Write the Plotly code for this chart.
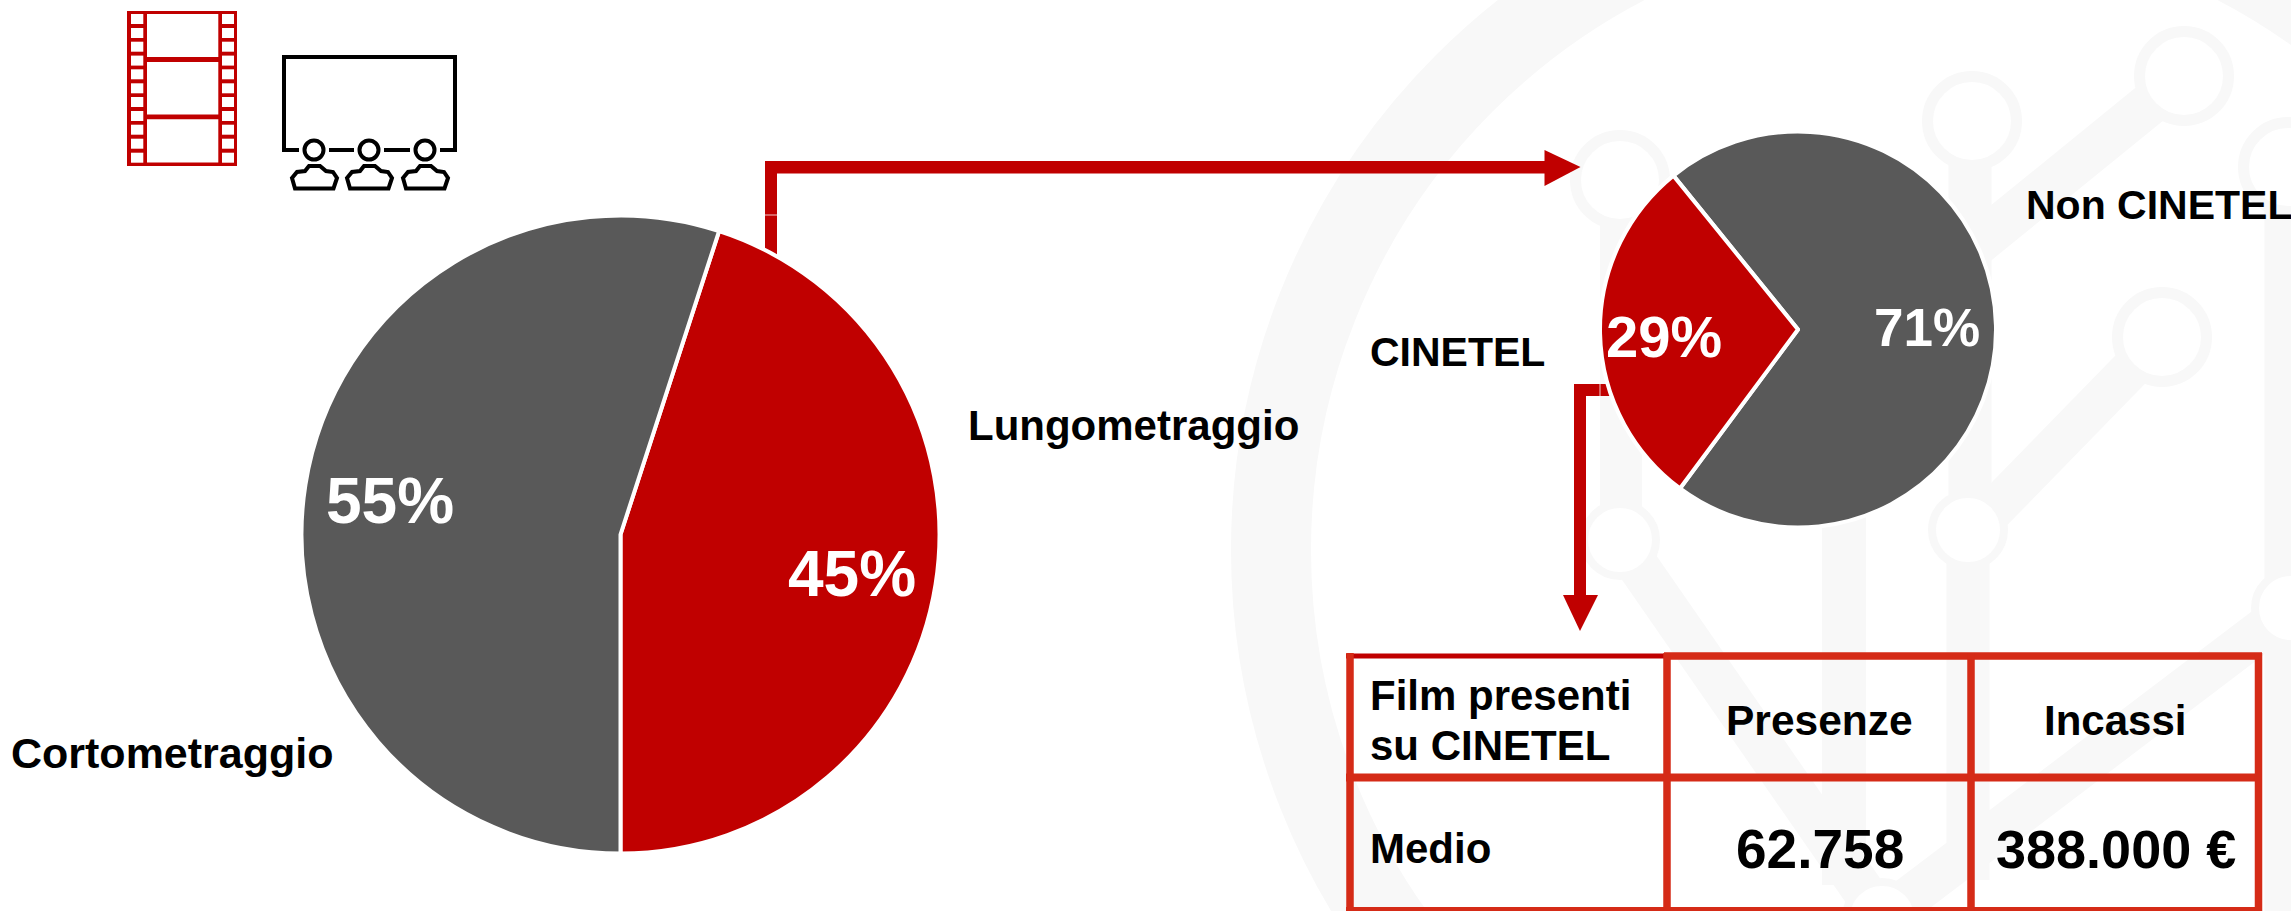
import plotly.graph_objects as go

W, H = 2291, 911
FONT = "Liberation Sans"
RED = "#C00000"
GREY = "#595959"
TABLE_RED = "#D52B17"
WM = "#F8F8F8"

# ---- data ----
format_labels = ["Lungometraggio", "Cortometraggio"]
format_values = [45, 55]
cinetel_labels = ["Non CINETEL", "CINETEL"]
cinetel_values = [71, 29]
table_header = ["Presenze", "Incassi"]
table_first_header = ["Film presenti", "su CINETEL"]
table_row_label = "Medio"
table_row_values = ["62.758", "388.000 €"]


def fx(x):
    return x / W


def fy(y):
    return 1 - y / H


def path(points, close=False):
    s = "M " + " L ".join(f"{fx(x):.6f},{fy(y):.6f}" for x, y in points)
    return s + (" Z" if close else "")


shapes = []


def poly(points, fill=None, line=None, width=0, layer="below", close=True):
    shapes.append(dict(type="path", xref="paper", yref="paper", layer=layer,
                       path=path(points, close),
                       fillcolor=fill if fill else "rgba(0,0,0,0)",
                       line=dict(color=line if line else "rgba(0,0,0,0)", width=width)))


def seg(x0, y0, x1, y1, color, width, layer="below"):
    shapes.append(dict(type="line", xref="paper", yref="paper", layer=layer,
                       x0=fx(x0), y0=fy(y0), x1=fx(x1), y1=fy(y1),
                       line=dict(color=color, width=width)))


def circle(cx, cy, r, line, width, fill=None, layer="below"):
    shapes.append(dict(type="circle", xref="paper", yref="paper", layer=layer,
                       x0=fx(cx - r), x1=fx(cx + r), y0=fy(cy - r), y1=fy(cy + r),
                       fillcolor=fill if fill else "rgba(0,0,0,0)",
                       line=dict(color=line, width=width)))


def rect(x0, y0, x1, y1, fill, layer="below"):
    shapes.append(dict(type="rect", xref="paper", yref="paper", layer=layer,
                       x0=fx(x0), x1=fx(x1), y0=fy(y0), y1=fy(y1),
                       fillcolor=fill, line=dict(width=0)))


# ---- watermark ----
circle(1931, 550, 660, WM, 80)
seg(1621, 180, 1621, 540, WM, 42)          # stem A-F
seg(1970, 121, 1970, 530, WM, 43)          # stem B-G
seg(1968, 530, 1968, 880, WM, 43)          # stem G down
seg(1844, 400, 1844, 885, WM, 44)          # stem behind pie
seg(2184, 76, 1970, 250, WM, 43)           # C to stem
seg(2162, 337, 1968, 536, WM, 41)          # E to stem
seg(1620, 540, 1882, 918, WM, 42)          # F to I
seg(2291, 608, 1882, 918, WM, 42)          # H to I
seg(2286, 167, 2286, 911, WM, 43)          # right stem
for cx, cy, r, w in [(1620, 180, 44.5, 11), (1972, 121, 44.5, 11), (2184, 76, 44.5, 11),
                     (2288, 167, 44.5, 11), (2162, 337, 44.5, 11), (1620, 540, 36, 8),
                     (1968, 530, 36, 8), (2291, 608, 36, 8), (1882, 918, 36, 8)]:
    circle(cx, cy, r, WM, w, fill="#FFFFFF")

# ---- arrows ----
rect(765, 161, 777, 270, RED)
rect(765, 161, 1546, 173.5, RED)
poly([(1544.5, 150), (1580.5, 167), (1544.5, 186)], fill=RED)
seg(765, 215, 777, 215, "#F0C8C8", 1)
rect(1574, 384, 1586, 597, RED)
rect(1574, 384, 1640, 396, RED)
poly([(1563, 595), (1598, 595), (1580, 631)], fill=RED)
seg(1600, 384, 1600, 396, "#F0C8C8", 1)

# ---- table ----
table_x = [1350, 1667, 1971, 2258.5]
seg(1346, 656, 1664, 656, RED, 5, "above")
seg(1664, 656, 2262, 656, TABLE_RED, 7.5, "above")
seg(1346, 777.5, 2262, 777.5, TABLE_RED, 8, "above")
seg(1346, 910, 2262, 910, TABLE_RED, 6, "above")
for x in table_x:
    seg(x, 653, x, 911, TABLE_RED, 7.5, "above")

# ---- film icon ----
rect(127, 11, 237, 166, RED)
hole_tops = [14, 28, 41.7, 55.6, 69.3, 83.3, 97, 111, 124.7, 138.7, 152.7]
for t in hole_tops:
    rect(131, t, 143.3, t + 10, "#FFFFFF")
    rect(222, t, 234, t + 10, "#FFFFFF")
for t, b in [(14, 57), (62, 114.5), (119.3, 162.5)]:
    rect(147, t, 218.3, b, "#FFFFFF")

# ---- cinema icon ----
BLACK = "#000000"
poly([(299, 150), (284, 150), (284, 57), (455, 57), (455, 150), (440, 150)],
     line=BLACK, width=4, close=False)
seg(329, 150, 354, 150, BLACK, 4)
seg(384, 150, 410, 150, BLACK, 4)
seat = [(-22, 178), (-17, 172), (-9, 171), (-5, 166), (6, 166),
        (12, 171), (19, 172), (23, 178), (19.5, 188.5), (-19, 188.5)]
for cx in [314, 369, 425]:
    circle(cx, 150, 9.5, BLACK, 4)
    poly([(cx + dx, y) for dx, y in seat], line=BLACK, width=4)


def dom(cx, cy, r):
    return dict(x=[(cx - r) / W, (cx + r) / W], y=[1 - (cy + r) / H, 1 - (cy - r) / H])


fig = go.Figure()
fig.add_trace(go.Pie(labels=format_labels, values=format_values, sort=False, direction="clockwise",
                     rotation=18, domain=dom(620.5, 534.5, 319), textinfo="none",
                     marker=dict(colors=[RED, GREY], line=dict(color="#FFFFFF", width=4)),
                     showlegend=False, hoverinfo="skip"))
fig.add_trace(go.Pie(labels=cinetel_labels, values=cinetel_values, sort=False, direction="clockwise",
                     rotation=-39, domain=dom(1798, 329.5, 198), textinfo="none",
                     marker=dict(colors=[GREY, RED], line=dict(color="#FFFFFF", width=4)),
                     showlegend=False, hoverinfo="skip"))


def note(text, x, y, size, color="#000000", anchor="center"):
    return dict(text=f"<b>{text}</b>", x=fx(x), y=fy(y), xref="paper", yref="paper",
                xanchor=anchor, yanchor="middle", showarrow=False,
                font=dict(family=FONT, size=size, color=color))


annotations = [
    note(f"{format_values[1]}%", 389.5, 501, 64, "#FFFFFF"),
    note(f"{format_values[0]}%", 851.5, 574, 64, "#FFFFFF"),
    note(f"{cinetel_values[1]}%", 1664, 336, 58, "#FFFFFF"),
    note(f"{cinetel_values[0]}%", 1927, 327, 53, "#FFFFFF"),
    note(format_labels[0], 966, 425, 42, anchor="left"),
    note(format_labels[1], 9, 753, 43, anchor="left"),
    note(cinetel_labels[0], 2024, 205, 41, anchor="left"),
    note(cinetel_labels[1], 1368, 352, 41, anchor="left"),
    note(table_first_header[0], 1368, 695, 42, anchor="left"),
    note(table_first_header[1], 1368, 745, 42, anchor="left"),
    note(table_header[0], 1819.5, 720, 42.5),
    note(table_header[1], 2115, 720, 42),
    note(table_row_label, 1368, 848, 42, anchor="left"),
    note(table_row_values[0], 1819.5, 849, 55),
    note(table_row_values[1], 2116, 849, 54),
]

fig.update_layout(width=W, height=H, margin=dict(l=0, r=0, t=0, b=0),
                  paper_bgcolor="#FFFFFF", plot_bgcolor="#FFFFFF",
                  showlegend=False, shapes=shapes, annotations=annotations,
                  font=dict(family=FONT))
fig.write_html("out.html", config=dict(displayModeBar=False),
               post_script="document.body.style.margin='0';document.body.style.overflow='hidden';")
